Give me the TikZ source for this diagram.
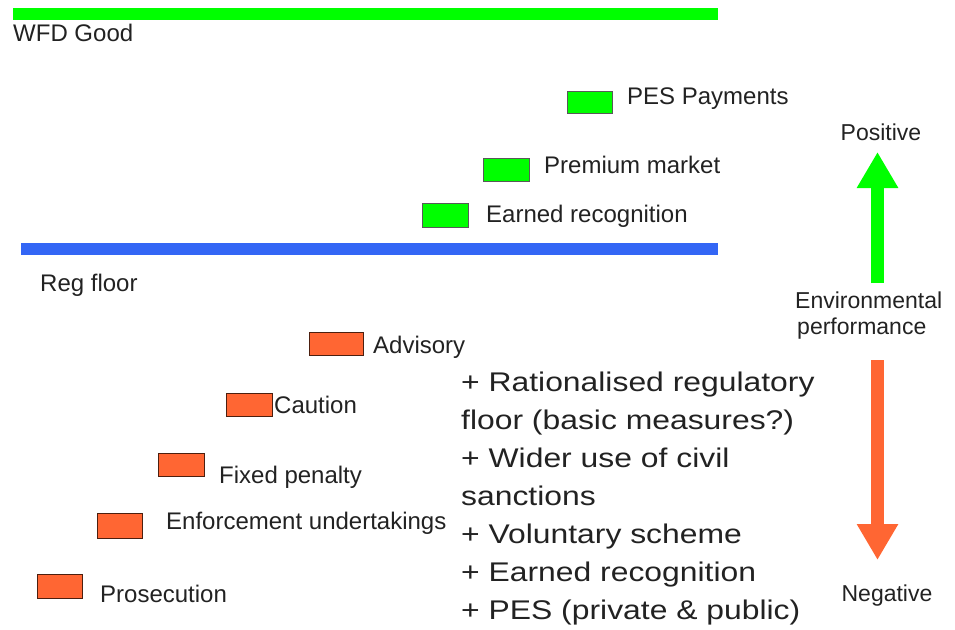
\documentclass[tikz,border=0pt]{standalone}
\usepackage{fontspec}
\setmainfont{Liberation Sans}
\newfontfamily\bigfont[FakeStretch=1.18]{Liberation Sans}
\usetikzlibrary{arrows.meta}
\definecolor{gfill}{HTML}{00FF00}
\definecolor{bbar}{HTML}{3366F5}
\definecolor{rfill}{HTML}{FF6633}
\definecolor{txt}{HTML}{222222}
\begin{document}
\begin{tikzpicture}[x=1pt,y=-1pt,
  lbl/.style={anchor=base west,inner sep=0pt,text=txt,font=\fontsize{24}{28}\selectfont},
  rlbl/.style={anchor=base west,inner sep=0pt,text=txt,font=\fontsize{23}{27}\selectfont},
  gbox/.style={draw=black!65,line width=0.8pt,fill=gfill,minimum width=46pt,minimum height=23pt,inner sep=0pt},
  rbox/.style={draw=black!70!rfill,line width=0.8pt,fill=rfill,minimum width=46pt,minimum height=23pt,inner sep=0pt},
  bigarrow/.style={line width=13pt,line cap=butt,-{Triangle[width=39pt,length=36pt]}}]
\useasboundingbox (0,0) rectangle (955,629);
% bars
\fill[gfill] (13,8) rectangle (718,19.5);
\fill[bbar] (21,243) rectangle (718,254.5);
\node[lbl] (wfd) at (13,41) {WFD Good};
\node[lbl] (reg) at (40,291) {Reg floor};
% green boxes
\node[gbox,minimum width=45pt,minimum height=22pt] (pes) at (589.5,102) {};
\node[lbl] (pesl) at (627,104) {PES Payments};
\node[gbox] (prem) at (506,169.5) {};
\node[lbl] (preml) at (544,173) {Premium market};
\node[gbox,minimum height=24pt] (earn) at (445,215) {};
\node[lbl] (earnl) at (486,222) {Earned recognition};
% red boxes
\node[rbox,minimum width=54pt] (adv) at (336,343.5) {};
\node[lbl] (advl) at (373,353) {Advisory};
\node[rbox] (cau) at (249,404.5) {};
\node[lbl] (caul) at (274,413) {Caution};
\node[rbox] (fix) at (181,464.5) {};
\node[lbl] (fixl) at (219,483) {Fixed penalty};
\node[rbox,minimum width=45pt,minimum height=25pt] (enf) at (120,525.5) {};
\node[lbl] (enfl) at (166,529) {Enforcement undertakings};
\node[rbox,minimum width=45pt,minimum height=24pt] (pro) at (60,586) {};
\node[lbl] (prol) at (100,602) {Prosecution};
% big list
\node[anchor=base west,inner sep=0pt,align=left,text=txt,font=\bigfont\fontsize{27}{38}\selectfont] (list) at (461,619)
  {+ Rationalised regulatory\\floor (basic measures?)\\+ Wider use of civil\\sanctions\\+ Voluntary scheme\\+ Earned recognition\\+ PES (private \& public)};
% right side
\node[rlbl,anchor=base] (pos) at (881,140) {Positive};
\node[rlbl] (env) at (795,308) {Environmental};
\node[rlbl] (perf) at (797,334) {performance};
\node[rlbl,anchor=base] (neg) at (887,601) {Negative};
\coordinate (gs) at (877.5,283);
\coordinate (ge) at (877.5,152);
\coordinate (rs) at (877.5,360);
\coordinate (re) at (877.5,560);
\draw[bigarrow,gfill] (gs) -- (ge);
\draw[bigarrow,rfill] (rs) -- (re);
\end{tikzpicture}
\end{document}
